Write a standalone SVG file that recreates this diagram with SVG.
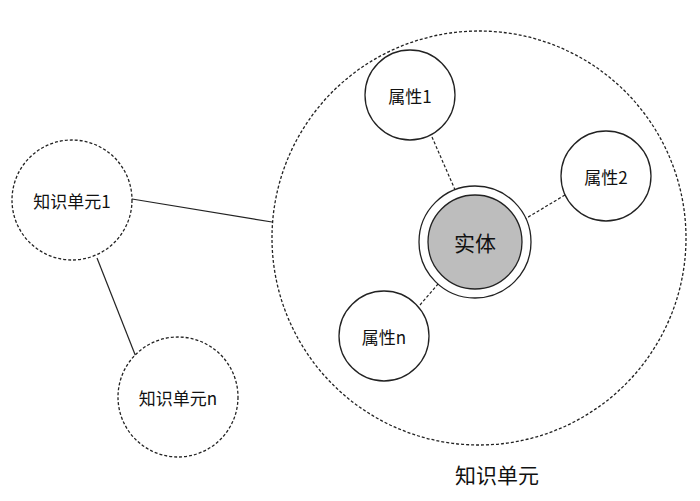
<svg xmlns="http://www.w3.org/2000/svg" width="700" height="501" viewBox="0 0 700 501">
<style>
.d{fill:#fff;stroke:#222;stroke-width:1.3;stroke-dasharray:3,2}
.s{fill:#fff;stroke:#222;stroke-width:1.3}
.t{font-family:"Noto Sans CJK SC","Liberation Sans",sans-serif;font-size:17px;fill:#111;text-anchor:middle;dominant-baseline:central}
</style>
<rect width="700" height="501" fill="#fff"/>
<g id="unit"><circle class="d" cx="479" cy="238" r="207" fill="none" style="fill:none"/><text class="t" x="497" y="474" style="font-size:21px">知识单元</text></g>
<g id="connectors" stroke="#222" stroke-width="1.2" fill="none">
<line x1="132" y1="199" x2="272" y2="222"/>
<line x1="97" y1="258" x2="136" y2="357"/>
<line x1="432" y1="137" x2="456" y2="192" stroke-dasharray="3,2"/>
<line x1="565" y1="195" x2="525" y2="219" stroke-dasharray="3,2"/>
<line x1="420" y1="305" x2="438" y2="284" stroke-dasharray="3,2"/>
</g>
<g id="unit1"><circle class="d" cx="72" cy="200" r="60"/><text class="t" x="72" y="200">知识单元1</text></g>
<g id="unitn"><circle class="d" cx="178" cy="397" r="60"/><text class="t" x="178" y="397">知识单元n</text></g>
<g id="attr1"><circle class="s" cx="410" cy="95" r="45"/><text class="t" x="410" y="95">属性1</text></g>
<g id="attr2"><circle class="s" cx="606" cy="176" r="45"/><text class="t" x="606" y="176">属性2</text></g>
<g id="attrn"><circle class="s" cx="384" cy="336" r="45"/><text class="t" x="384" y="336">属性n</text></g>
<g id="entity"><circle class="s" cx="475" cy="242" r="56"/><circle cx="475" cy="242" r="47" fill="#bdbdbd" stroke="#222" stroke-width="1.3"/><text class="t" x="475" y="242" style="font-size:21px">实体</text></g>
</svg>
